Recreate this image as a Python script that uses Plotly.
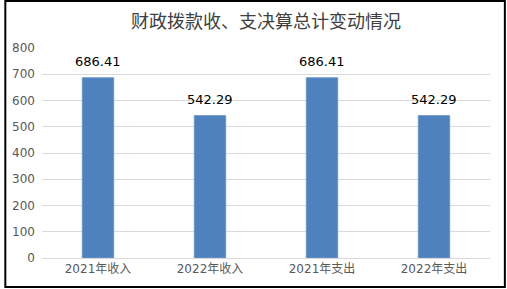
import plotly.graph_objects as go

categories = ["2021年收入", "2022年收入", "2021年支出", "2022年支出"]
values = [686.41, 542.29, 686.41, 542.29]
labels = ["686.41", "542.29", "686.41", "542.29"]

W, H = 507, 289
L, R, T, B = 38, 17, 48, 31
pw, ph = W - L - R, H - T - B

fig = go.Figure()
fig.add_trace(go.Bar(x=categories, y=values, marker=dict(color="#4F81BD", line=dict(color="#6A95CC", width=1)),
                     hoverinfo="x+y"))
for c, v, t in zip(categories, values, labels):
    fig.add_annotation(x=c, y=v, text=t, showarrow=False, yanchor="bottom", yshift=7,
                       font=dict(family="DejaVu Sans, sans-serif", size=13, color="#000000"))

def px(x):
    return (x - L) / pw
def py(y):
    return 1 - (y - T) / ph

fig.add_shape(type="rect", xref="paper", yref="paper", x0=px(1), x1=px(505), y0=py(1), y1=py(287),
              line=dict(color="#000000", width=2), fillcolor="rgba(0,0,0,0)", layer="above")

fig.update_layout(
    width=W, height=H,
    margin=dict(l=L, r=R, t=T, b=B),
    paper_bgcolor="white", plot_bgcolor="white",
    bargap=0.72,
    showlegend=False,
    title=dict(text="财政拨款收、支决算总计变动情况", x=0.5, xref="paper", xanchor="center",
               y=1 - 22 / H, yanchor="middle",
               font=dict(family="Noto Sans CJK SC", size=18, color="#404040")),
    xaxis=dict(showgrid=False, showline=True, linecolor="#D9D9D9", linewidth=1, ticks="",
               tickfont=dict(family="DejaVu Sans, Noto Sans CJK SC", size=12, color="#595959")),
    yaxis=dict(range=[0, 800], dtick=100, showgrid=True, gridcolor="#D9D9D9", gridwidth=1,
               zeroline=False, showline=False, ticks="", ticklabelstandoff=6,
               tickfont=dict(family="DejaVu Sans, sans-serif", size=12, color="#595959")),
)
fig.write_html("out.html")
